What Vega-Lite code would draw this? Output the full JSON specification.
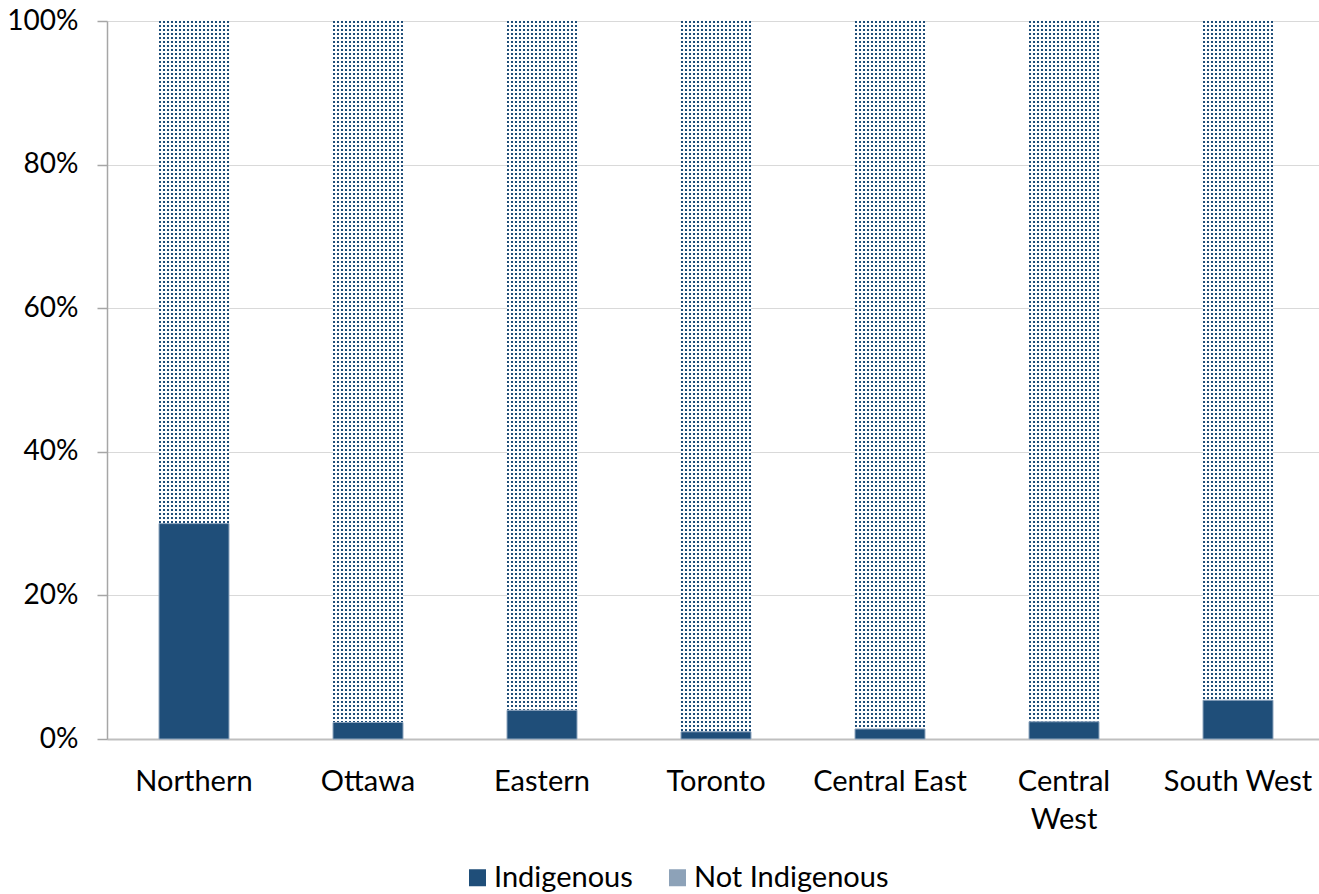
{
  "$schema": "https://vega.github.io/schema/vega-lite/v6.json",
  "width": 1212,
  "height": 718,
  "autosize": {"type": "none"},
  "padding": {"left": 107, "top": 21, "right": 0, "bottom": 155},
  "background": "#ffffff",
  "config": {
    "font": "Lato",
    "view": {"stroke": null},
    "axis": {"labelFont": "Lato", "labelFontSize": 29, "labelColor": "#000000"},
    "axisX": {"domainColor": "#BFBFBF", "domainWidth": 2, "ticks": false, "grid": false, "labelPadding": 28, "labelLineHeight": 38, "labelAngle": 0, "labelLimit": 400, "labelOverlap": false},
    "axisY": {"grid": true, "gridColor": "#D9D9D9", "gridWidth": 1, "domainColor": "#A6A6A6", "domainWidth": 1.5, "tickColor": "#A6A6A6", "tickSize": 10, "tickWidth": 1.5, "labelPadding": 19, "labelFontSize": 28}
  },
  "data": {
    "values": [
      {"region": "Northern", "group": "Indigenous", "share": 30.0},
      {"region": "Northern", "group": "Not Indigenous", "share": 70.0},
      {"region": "Ottawa", "group": "Indigenous", "share": 2.3},
      {"region": "Ottawa", "group": "Not Indigenous", "share": 97.7},
      {"region": "Eastern", "group": "Indigenous", "share": 4.0},
      {"region": "Eastern", "group": "Not Indigenous", "share": 96.0},
      {"region": "Toronto", "group": "Indigenous", "share": 1.0},
      {"region": "Toronto", "group": "Not Indigenous", "share": 99.0},
      {"region": "Central East", "group": "Indigenous", "share": 1.4},
      {"region": "Central East", "group": "Not Indigenous", "share": 98.6},
      {"region": "Central West", "group": "Indigenous", "share": 2.4},
      {"region": "Central West", "group": "Not Indigenous", "share": 97.6},
      {"region": "South West", "group": "Indigenous", "share": 5.4},
      {"region": "South West", "group": "Not Indigenous", "share": 94.6}
    ]
  },
  "transform": [
    {"stack": "share", "groupby": ["region"], "sort": [{"field": "group", "order": "ascending"}], "as": ["y0", "y1"]}
  ],
  "encoding": {
    "x": {
      "field": "region",
      "type": "nominal",
      "sort": null,
      "title": null,
      "scale": {"range": [0, 1218], "paddingInner": 0, "paddingOuter": 0},
      "axis": {"labelExpr": "datum.value === 'Central West' ? ['Central', 'West'] : datum.value"}
    }
  },
  "layer": [
    {
      "transform": [{"filter": "datum.group === 'Not Indigenous'"}],
      "mark": {
        "type": "bar",
        "size": 70,
        "fill": {
          "gradient": "linear", "x1": 0, "y1": 0, "x2": 1, "y2": 0,
          "stops": [
            {"offset": 0, "color": "#1F4E79"}, {"offset": 0.0286, "color": "#1F4E79"},
            {"offset": 0.0286, "color": "#FFFFFF"}, {"offset": 0.0571, "color": "#FFFFFF"},
            {"offset": 0.0571, "color": "#1F4E79"}, {"offset": 0.0857, "color": "#1F4E79"},
            {"offset": 0.0857, "color": "#FFFFFF"}, {"offset": 0.1143, "color": "#FFFFFF"},
            {"offset": 0.1143, "color": "#1F4E79"}, {"offset": 0.1429, "color": "#1F4E79"},
            {"offset": 0.1429, "color": "#FFFFFF"}, {"offset": 0.1714, "color": "#FFFFFF"},
            {"offset": 0.1714, "color": "#1F4E79"}, {"offset": 0.2, "color": "#1F4E79"},
            {"offset": 0.2, "color": "#FFFFFF"}, {"offset": 0.2286, "color": "#FFFFFF"},
            {"offset": 0.2286, "color": "#1F4E79"}, {"offset": 0.2571, "color": "#1F4E79"},
            {"offset": 0.2571, "color": "#FFFFFF"}, {"offset": 0.2857, "color": "#FFFFFF"},
            {"offset": 0.2857, "color": "#1F4E79"}, {"offset": 0.3143, "color": "#1F4E79"},
            {"offset": 0.3143, "color": "#FFFFFF"}, {"offset": 0.3429, "color": "#FFFFFF"},
            {"offset": 0.3429, "color": "#1F4E79"}, {"offset": 0.3714, "color": "#1F4E79"},
            {"offset": 0.3714, "color": "#FFFFFF"}, {"offset": 0.4, "color": "#FFFFFF"},
            {"offset": 0.4, "color": "#1F4E79"}, {"offset": 0.4286, "color": "#1F4E79"},
            {"offset": 0.4286, "color": "#FFFFFF"}, {"offset": 0.4571, "color": "#FFFFFF"},
            {"offset": 0.4571, "color": "#1F4E79"}, {"offset": 0.4857, "color": "#1F4E79"},
            {"offset": 0.4857, "color": "#FFFFFF"}, {"offset": 0.5143, "color": "#FFFFFF"},
            {"offset": 0.5143, "color": "#1F4E79"}, {"offset": 0.5429, "color": "#1F4E79"},
            {"offset": 0.5429, "color": "#FFFFFF"}, {"offset": 0.5714, "color": "#FFFFFF"},
            {"offset": 0.5714, "color": "#1F4E79"}, {"offset": 0.6, "color": "#1F4E79"},
            {"offset": 0.6, "color": "#FFFFFF"}, {"offset": 0.6286, "color": "#FFFFFF"},
            {"offset": 0.6286, "color": "#1F4E79"}, {"offset": 0.6571, "color": "#1F4E79"},
            {"offset": 0.6571, "color": "#FFFFFF"}, {"offset": 0.6857, "color": "#FFFFFF"},
            {"offset": 0.6857, "color": "#1F4E79"}, {"offset": 0.7143, "color": "#1F4E79"},
            {"offset": 0.7143, "color": "#FFFFFF"}, {"offset": 0.7429, "color": "#FFFFFF"},
            {"offset": 0.7429, "color": "#1F4E79"}, {"offset": 0.7714, "color": "#1F4E79"},
            {"offset": 0.7714, "color": "#FFFFFF"}, {"offset": 0.8, "color": "#FFFFFF"},
            {"offset": 0.8, "color": "#1F4E79"}, {"offset": 0.8286, "color": "#1F4E79"},
            {"offset": 0.8286, "color": "#FFFFFF"}, {"offset": 0.8571, "color": "#FFFFFF"},
            {"offset": 0.8571, "color": "#1F4E79"}, {"offset": 0.8857, "color": "#1F4E79"},
            {"offset": 0.8857, "color": "#FFFFFF"}, {"offset": 0.9143, "color": "#FFFFFF"},
            {"offset": 0.9143, "color": "#1F4E79"}, {"offset": 0.9429, "color": "#1F4E79"},
            {"offset": 0.9429, "color": "#FFFFFF"}, {"offset": 0.9714, "color": "#FFFFFF"},
            {"offset": 0.9714, "color": "#1F4E79"}, {"offset": 1, "color": "#1F4E79"}
          ]
        }
      },
      "encoding": {
        "y": {"field": "y0", "type": "quantitative", "title": null, "scale": {"domain": [0, 100]}, "axis": {"values": [0, 20, 40, 60, 80, 100], "labelExpr": "datum.value + '%'"}},
        "y2": {"field": "y1"}
      }
    },
    {
      "transform": [{"filter": "datum.group === 'Not Indigenous'"}],
      "mark": {"type": "rule", "stroke": "#FFFFFF", "strokeWidth": 70, "strokeDash": [2, 2], "strokeDashOffset": 2, "strokeCap": "butt"},
      "encoding": {
        "y": {"field": "y1", "type": "quantitative", "title": null, "scale": {"domain": [0, 100]}, "axis": {"values": [0, 20, 40, 60, 80, 100], "labelExpr": "datum.value + '%'"}},
        "y2": {"field": "y0"}
      }
    },
    {
      "transform": [{"filter": "datum.group === 'Indigenous'"}],
      "mark": {"type": "bar", "size": 70, "stroke": "#8FA6BF", "strokeWidth": 1},
      "encoding": {
        "y": {"field": "y0", "type": "quantitative", "title": null, "scale": {"domain": [0, 100]}, "axis": {"values": [0, 20, 40, 60, 80, 100], "labelExpr": "datum.value + '%'"}},
        "y2": {"field": "y1"},
        "color": {
          "field": "group",
          "type": "nominal",
          "scale": {"domain": ["Indigenous", "Not Indigenous"], "range": ["#1F4E79", "#8DA2B8"]},
          "legend": {
            "orient": "none",
            "legendX": 356,
            "legendY": 842,
            "direction": "horizontal",
            "title": null,
            "symbolType": "square",
            "symbolSize": 289,
            "symbolStrokeWidth": 0,
            "labelFont": "Lato",
            "labelFontSize": 29,
            "labelColor": "#000000",
            "labelLimit": 400,
            "labelOffset": 2,
            "columnPadding": 30
          }
        }
      }
    }
  ]
}
